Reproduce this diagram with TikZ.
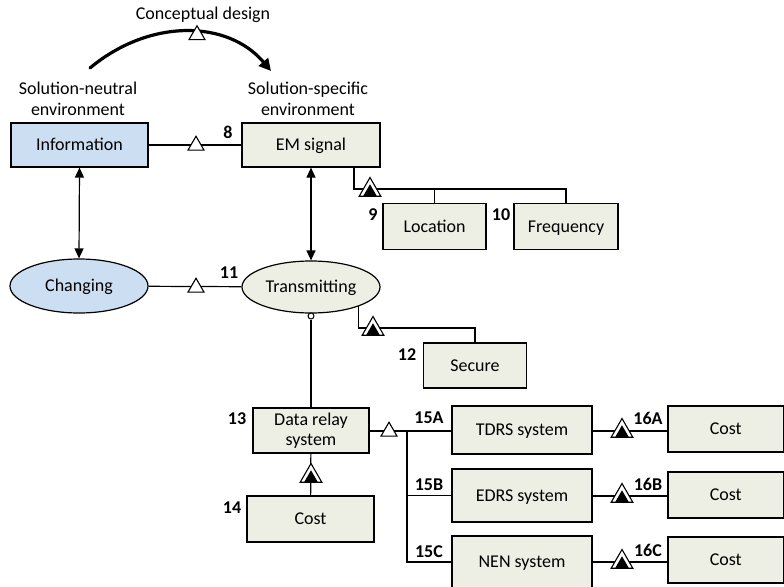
\documentclass[tikz,border=0pt]{standalone}
\usepackage{fontspec}
\setmainfont{Carlito}
\usetikzlibrary{arrows.meta,shapes.geometric}
\definecolor{bluefill}{RGB}{204,222,241}
\definecolor{tanfill}{RGB}{238,239,228}
\tikzset{
  txt/.style={font=\fontsize{18}{20.5}\selectfont, align=center, inner sep=0pt},
  one/.style={text height=15pt, text depth=3.4pt},
  num/.style={font=\fontsize{18}{20}\selectfont\bfseries, inner sep=0pt},
  box/.style={draw, fill=tanfill, txt, line width=1.2pt},
  bluebox/.style={box, fill=bluefill},
  oval/.style={draw, ellipse, fill=tanfill, txt, line width=1.2pt},
  wtri/.style={regular polygon, regular polygon sides=3, draw, fill=white, minimum size=18.5pt, inner sep=0pt, line width=1.1pt},
  btri/.style={regular polygon, regular polygon sides=3, draw, fill=white, minimum size=25pt, inner sep=0pt, line width=1.1pt},
  bin/.style={regular polygon, regular polygon sides=3, fill=black, minimum size=15.5pt, inner sep=0pt},
  link/.style={line width=1.2pt},
  dbl/.style={line width=1.2pt, {Triangle[length=10pt,width=9pt]}-{Triangle[length=10pt,width=9pt]}},
}
\begin{document}
\begin{tikzpicture}[x=1pt,y=-1pt]
\useasboundingbox (0,0) rectangle (784,586);

% top labels and arc
\node[txt, one] (cd) at (203,14) {Conceptual design};
\node[txt] (sn) at (78,99) {Solution-neutral\\environment};
\node[txt] (ss) at (308,99) {Solution-specific\\environment};
\coordinate (a0) at (90,68);
\coordinate (a1) at (271,71);
\draw[line width=3.2pt, line cap=round, -{Triangle[length=12pt,width=12pt]}] (a0) .. controls (150,18) and (228,20) .. (a1);
\node[wtri] (tcd) at (197,35) {};

% boxes
\node[bluebox, one, minimum width=137pt, minimum height=44pt] (info) at (79.5,145) {Information};
\node[box, one, minimum width=138pt, minimum height=44pt] (em) at (311,145) {EM signal};
\node[box, one, minimum width=103pt, minimum height=46pt] (loc) at (434.5,226.5) {Location};
\node[box, one, minimum width=104pt, minimum height=46pt] (freq) at (566,226.5) {Frequency};
\node[oval, one, fill=bluefill, minimum width=138pt, minimum height=54pt] (chg) at (79,286) {Changing};
\node[oval, one, minimum width=138pt, minimum height=52pt] (trn) at (311,287) {Transmitting};
\node[box, one, minimum width=103pt, minimum height=45pt] (sec) at (475,365.5) {Secure};
\node[box, minimum width=116pt, minimum height=45pt] (drs) at (311,430.5) {Data relay\\system};
\node[box, one, minimum width=127pt, minimum height=46pt] (c14) at (310.5,519) {Cost};
\node[box, one, minimum width=140pt, minimum height=48pt] (tdrs) at (522,430) {TDRS system};
\node[box, one, minimum width=140pt, minimum height=53pt] (edrs) at (522,495.5) {EDRS system};
\node[box, one, minimum width=140pt, minimum height=52pt] (nen) at (522,562) {NEN system};
\node[box, one, minimum width=115.5pt, minimum height=46pt] (ca) at (725.75,429) {Cost};
\node[box, one, minimum width=115.5pt, minimum height=46pt] (cb) at (725.75,495) {Cost};
\node[box, one, minimum width=115.5pt, minimum height=46pt] (cc) at (725.75,560) {Cost};

% numbers
\node[num] (n8) at (228,132) {8};
\node[num] (n9) at (373,215) {9};
\node[num] (n10) at (501,215) {10};
\node[num] (n11) at (229,273) {11};
\node[num] (n12) at (407,355) {12};
\node[num] (n13) at (237,419) {13};
\node[num] (n14) at (232,508) {14};
\node[num] (n15a) at (429,418) {15A};
\node[num] (n15b) at (429,485) {15B};
\node[num] (n15c) at (429,552) {15C};
\node[num] (n16a) at (648,418) {16A};
\node[num] (n16b) at (648,484) {16B};
\node[num] (n16c) at (648,550) {16C};

% connectors
\draw[link] (info) -- (em);
\node[wtri] (t8) at (196,145.5) {};
\draw[dbl] (info.south) -- (chg.north);
\draw[dbl] (em.south) -- (trn.north);
\draw[link] (chg) -- (trn);
\node[wtri] (t11) at (196,287.5) {};

\coordinate (j1) at (354,189);
\draw[link] (em.south -| j1) -- (j1) -- (j1 -| freq.north) -- (freq.north);
\draw[link] (loc.north) -- (loc.north |- j1);
\node[btri] (t9) at (370,190) {};
\node[bin] at (370,192) {};

\coordinate (h12) at (475,328);
\draw[link] (trn.-22) |- (h12) -- (sec.north);
\node[btri] (t12) at (373,329) {};
\node[bin] at (373,331) {};

\node[circle, draw, fill=white, minimum size=6pt, inner sep=0pt, line width=1pt] (oc) at (311,316) {};
\draw[link] (oc) -- (drs.north);

\draw[link] (drs) -- (c14);
\node[btri] (t14) at (311,476) {};
\node[bin] at (311,478) {};

\coordinate (v1) at (407,431);
\draw[link] (drs.east |- v1) -- (v1) -- (tdrs.west |- v1);
\draw[link] (v1) |- (nen.west);
\draw[link] (v1 |- edrs.west) -- (edrs.west);
\node[wtri] (t15) at (389,431.5) {};

\draw[link] (tdrs.east |- 0,431) -- (ca.west |- 0,431);
\node[btri] (t16a) at (622,431) {};
\node[bin] at (622,433) {};
\draw[link] (edrs.east |- 0,496) -- (cb.west |- 0,496);
\node[btri] (t16b) at (622,496) {};
\node[bin] at (622,498) {};
\draw[link] (nen.east |- 0,562) -- (cc.west |- 0,562);
\node[btri] (t16c) at (622,562) {};
\node[bin] at (622,564) {};
\end{tikzpicture}
\end{document}
